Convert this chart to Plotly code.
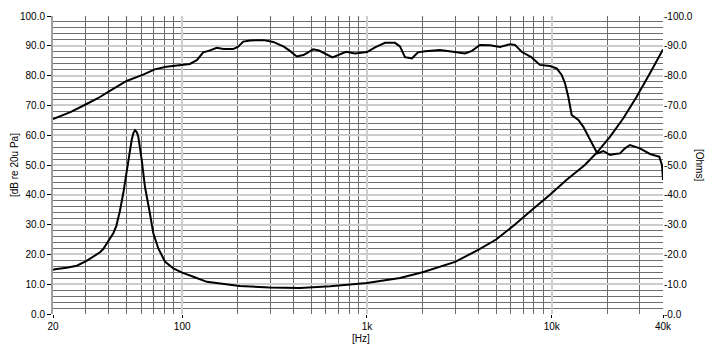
import plotly.graph_objects as go

# SPL curve (left axis, dB re 20uPa)
spl_freq = [20, 25, 30, 35, 40, 45, 50, 62, 71, 82, 101, 110, 120, 130, 139, 154, 167, 189, 201, 214,
            234, 276, 311, 355, 383, 417, 453, 512, 550, 651, 770, 862, 1000, 1106, 1253, 1418, 1509,
            1606, 1752, 1888, 2061, 2483, 2994, 3390, 3698, 4090, 4632, 5248, 5940, 6324, 6872, 7782,
            8630, 9780, 10630, 11320, 11800, 12290, 12820, 13930, 14820, 15780, 16790, 17640, 19000,
            20660, 21980, 23400, 24900, 26500, 30000, 34000, 36980, 38200, 39500, 40000]
spl_db = [65.4, 67.8, 70.3, 72.4, 74.6, 76.6, 78.2, 80.4, 82.1, 83.0, 83.8, 83.9, 85.2, 87.8, 88.3, 89.3,
          88.9, 88.9, 89.7, 91.4, 91.8, 91.9, 91.3, 89.7, 88.3, 86.4, 86.9, 88.8, 88.4, 86.1, 88.0, 87.4,
          87.9, 89.5, 91.0, 91.0, 89.8, 86.2, 85.8, 87.8, 88.2, 88.6, 87.9, 87.4, 88.3, 90.3, 90.2, 89.6,
          90.5, 90.3, 88.0, 86.1, 83.6, 83.2, 82.4, 80.2, 77.4, 72.9, 66.8, 65.1, 62.8, 59.5, 56.7, 53.9,
          54.7, 53.4, 53.7, 53.9, 55.6, 56.7, 55.6, 53.7, 53.0, 52.8, 50.0, 45.0]

# Impedance curve (right axis, Ohms)
imp_freq = [20, 20.5, 23.7, 26.9, 30.4, 34.5, 35.9, 37.4, 39.1, 40.7, 42.4, 44.0, 46.0, 48.0, 50.0, 51.6,
            53.3, 54.5, 55.6, 56.8, 57.9, 60.4, 62.9, 66.4, 69.8, 74.3, 80.7, 89.6, 100, 115, 136, 157,
            205, 297, 434, 633, 1000, 1509, 2000, 3000, 4000, 5000, 6324, 8000, 9780, 12000, 15100,
            17500, 20700, 24400, 28800, 34000, 37900, 40000]
imp_ohm = [14.8, 15.0, 15.5, 16.2, 17.8, 19.8, 20.7, 21.8, 23.7, 25.4, 27.1, 29.5, 34.5, 40.5, 47.5, 54.0,
           58.4, 60.8, 61.7, 61.0, 59.5, 51.7, 42.7, 34.9, 27.1, 22.0, 17.6, 15.3, 13.9, 12.5, 10.8, 10.3,
           9.4, 8.9, 8.7, 9.3, 10.4, 12.1, 14.0, 17.5, 21.5, 25.0, 30.0, 35.5, 40.0, 45.0, 50.0,
           54.1, 59.5, 65.7, 72.9, 80.8, 86.5, 88.8]

x_major = [20, 100, 1000, 10000, 40000]
x_major_text = ["20", "100", "1k", "10k", "40k"]
x_minor = [30, 40, 50, 60, 70, 80, 90, 200, 300, 400, 500, 600, 700, 800, 900,
           2000, 3000, 4000, 5000, 6000, 7000, 8000, 9000, 20000, 30000]
y_major = [0, 10, 20, 30, 40, 50, 60, 70, 80, 90, 100]
y_text = ["%.1f" % v for v in y_major]

FONT = "Liberation Sans, Arial, sans-serif"
DARK = "#6e6e6e"
LIGHT = "#cdcdcd"

fig = go.Figure()
fig.add_trace(go.Scatter(x=spl_freq, y=spl_db, mode="lines", line=dict(color="black", width=2),
                         showlegend=False, hoverinfo="skip"))
fig.add_trace(go.Scatter(x=imp_freq, y=imp_ohm, mode="lines", line=dict(color="black", width=2),
                         yaxis="y2", showlegend=False, hoverinfo="skip"))

# page body has an 8px default margin, so the figure is 8px smaller and shifted
fig.update_layout(
    width=708, height=342,
    margin=dict(l=45, r=53, t=8, b=36),
    paper_bgcolor="white", plot_bgcolor="white",
    font=dict(family=FONT, size=10, color="black"),
    xaxis=dict(type="log", range=[1.30103, 4.60206], tickvals=x_major, ticktext=x_major_text,
               showgrid=True, gridcolor=LIGHT, gridwidth=1.5, ticks="outside", ticklen=3,
               tickcolor="black", showline=False, zeroline=False, automargin=False,
               minor=dict(tickvals=x_minor, showgrid=True, gridcolor=DARK, gridwidth=1, ticks=""),
               tickfont=dict(size=10)),
    yaxis=dict(range=[0, 100], tickvals=y_major, ticktext=y_text, showgrid=True, gridcolor=LIGHT,
               gridwidth=1.5, ticks="outside", ticklen=4, tickcolor="black", zeroline=False,
               showline=True, linecolor="#a0a0a0", linewidth=2, automargin=False,
               minor=dict(dtick=2, showgrid=True, gridcolor=DARK, gridwidth=1, ticks=""),
               tickfont=dict(size=10)),
    yaxis2=dict(range=[0, 100], overlaying="y", side="right", tickvals=y_major,
                ticktext=["-" + t for t in y_text], showgrid=False, ticks="", zeroline=False,
                automargin=False, tickfont=dict(size=10)),
    annotations=[
        dict(text="[Hz]", x=0.5, xref="paper", y=0, yref="paper", yanchor="top", xanchor="center",
             showarrow=False, font=dict(size=10), xshift=3, yshift=-17),
        dict(text="[dB re 20u Pa]", x=0, xref="paper", y=0.5, yref="paper", textangle=-90,
             showarrow=False, font=dict(size=10), xanchor="center", yanchor="middle", xshift=-39),
        dict(text="[Ohms]", x=1, xref="paper", y=0.5, yref="paper", textangle=90,
             showarrow=False, font=dict(size=10), xanchor="center", yanchor="middle", xshift=37),
    ],
)

fig.write_html("out.html")
